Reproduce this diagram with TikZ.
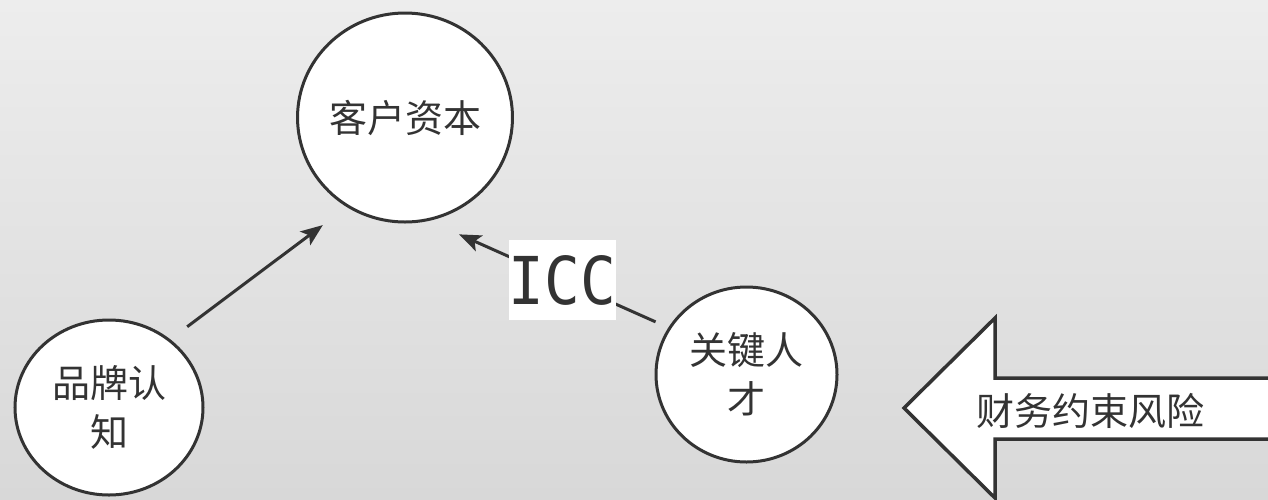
\documentclass[tikz,border=0pt]{standalone}
\usepackage{fontspec}
\setmainfont{Noto Sans CJK SC}
\newfontfamily\iccfont[FakeStretch=0.9]{DejaVu Sans Mono}
\usetikzlibrary{shapes.geometric,arrows.meta}
\definecolor{ink}{RGB}{51,51,51}
\definecolor{bgtop}{RGB}{237,237,237}
\definecolor{bgbot}{RGB}{216,216,216}
\begin{document}
\begin{tikzpicture}[x=1pt,y=-1pt,
  bubble/.style={ellipse, draw=ink, line width=3pt, fill=white, inner sep=0pt, align=center, font=\fontsize{38}{49}\selectfont, text=ink},
  arr/.style={draw=ink, line width=3pt, -{Stealth[length=22pt,width=17pt,inset=5pt]}},
  label box/.style={fill=white, minimum width=105pt, minimum height=80pt, inner sep=0pt, font=\iccfont\fontsize{66}{66}\selectfont, text=ink},
  bigarrow/.style={draw=ink, line width=3.5pt, fill=white, line join=miter},
]
\fill[top color=bgtop,bottom color=bgbot] (0,0) rectangle (1268,499);
\useasboundingbox (0,0) rectangle (1268,499);
\clip (0,0) rectangle (1268,499);

\node[bubble, minimum width=206pt, minimum height=209pt] (cust) at (405,117.5) {客户资本};
\node[bubble, minimum width=188pt, minimum height=175pt] (brand) at (109,407.5) {品牌认\\知};
\node[bubble, minimum width=181pt, minimum height=175pt] (talent) at (746.5,374.5) {关键人\\才};

\draw[arr, shorten <=21pt, shorten >=30pt] (brand.48) -- (cust.237);
\draw[arr, shorten <=14pt, shorten >=33pt] (talent.149) -- (cust.283)
  node[label box, pos=0.442] (icc) {ICC};

\draw[bigarrow] (904,408) -- (995,318) -- (995,378) -- (1300,378) -- (1300,439) -- (995,439) -- (995,498) -- cycle;
\node[font=\fontsize{38}{38}\selectfont, text=ink] (fin) at (1090,411) {财务约束风险};
\end{tikzpicture}
\end{document}
